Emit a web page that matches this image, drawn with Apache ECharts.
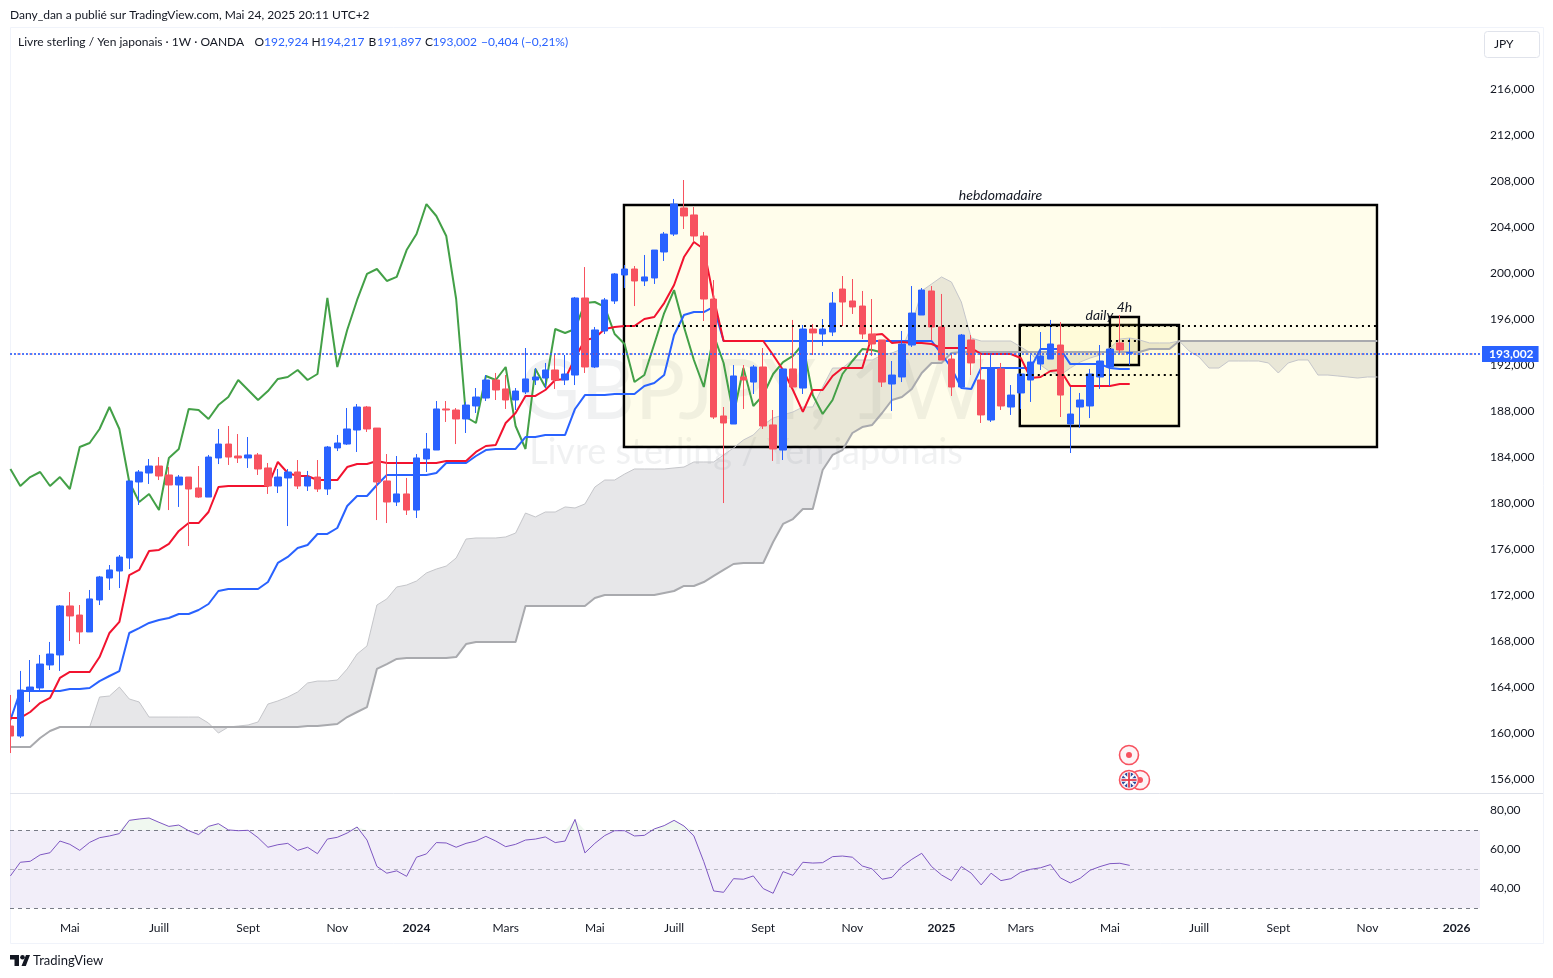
<!DOCTYPE html>
<html><head><meta charset="utf-8">
<style>html,body{margin:0;padding:0;background:#fff}#c{width:1553px;height:978px}</style>
<script src="https://cdn.jsdelivr.net/npm/echarts@6/dist/echarts.min.js"></script>
</head><body><div id="c"></div>
<script>
const opens=[160.52,159.65,163.65,163.83,165.83,166.70,170.96,170.17,168.70,171.48,
173.39,174.0,175.13,181.74,182.52,183.13,182.35,181.48,182.17,181.22,
180.43,183.83,185.04,184.0,183.83,184.09,182.96,181.39,182.09,182.61,
181.39,182.17,181.13,184.70,185.04,186.26,188.26,186.43,181.83,180.0,
180.70,179.30,183.74,184.52,188.09,188.0,187.22,188.35,189.04,190.61,
189.83,188.87,189.57,190.61,190.78,191.48,190.61,191.04,197.74,191.74,
194.87,197.48,199.74,200.26,199.22,199.48,201.74,203.30,205.57,204.96,
203.13,197.65,187.48,186.78,190.87,190.43,191.74,186.70,184.52,191.57,
189.91,195.04,194.61,194.78,198.52,197.48,197.04,194.61,194.09,190.26,
190.87,193.65,196.26,198.35,195.22,192.43,190.0,194.09,190.61,187.13,
191.57,188.26,189.48,190.61,192.0,192.43,193.65,186.78,188.26,188.35,
190.87,191.74,193.83,192.924];
const closes=[159.65,163.65,163.91,165.91,166.78,170.96,170.09,168.70,171.57,173.48,
174.09,175.21,181.83,182.61,183.13,182.26,181.48,182.17,181.13,180.43,
183.91,185.04,183.91,183.83,184.09,182.87,181.39,182.17,182.61,181.39,
182.17,181.13,184.78,185.13,186.35,188.26,186.35,181.74,180.0,180.70,
179.30,183.83,184.61,188.09,188.0,187.22,188.43,189.13,190.61,189.74,
188.87,189.65,190.70,190.87,191.48,190.61,191.13,197.74,191.74,194.96,
197.57,199.83,200.26,199.22,199.57,201.91,203.30,205.91,204.87,203.13,
197.65,187.39,186.87,190.96,190.61,191.74,186.61,184.61,191.57,190.0,
195.04,194.70,195.04,197.30,197.39,196.96,194.61,193.74,190.43,191.04,
193.74,196.43,198.43,195.22,192.35,190.0,194.52,192.09,187.57,191.65,
188.35,189.30,191.13,192.17,192.70,193.74,189.30,187.65,188.87,191.13,
192.26,193.30,193.22,193.002];
const lows=[158.17,159.48,162.61,163.65,165.39,165.31,167.91,167.65,168.70,171.04,
172.35,172.52,174.17,179.74,181.57,181.91,179.30,179.57,176.17,180.35,
180.43,183.30,183.22,183.39,182.96,182.35,180.70,180.78,177.91,181.13,
180.96,180.87,180.61,184.43,184.96,184.35,186.09,178.43,178.17,179.65,
178.87,178.61,182.61,184.52,186.96,185.04,186.0,187.74,188.78,188.87,
188.09,188.0,189.39,190.17,189.91,189.83,190.17,190.17,191.22,191.65,
194.61,197.22,198.61,197.04,198.78,198.96,200.96,203.13,203.74,202.61,
195.74,187.22,179.91,186.78,188.09,189.39,186.35,183.57,183.65,189.91,
189.39,192.78,193.57,194.43,195.30,196.35,194.17,192.70,190.0,187.91,
190.43,193.48,196.26,194.09,192.35,189.22,189.91,191.04,186.87,186.96,
188.0,187.57,188.09,188.70,191.48,192.43,187.39,184.26,186.43,187.30,
189.83,190.09,192.87,191.897];
const highs=[163.22,165.31,166.26,166.70,167.83,171.04,172.17,171.04,172.35,173.57,
174.52,175.39,181.83,182.78,183.74,183.91,183.04,182.35,182.17,183.13,
184.09,186.35,186.61,185.91,185.65,184.26,183.39,182.87,182.87,183.65,
182.70,183.65,184.87,185.83,188.17,188.52,188.35,186.43,184.17,184.0,
182.09,184.17,186.0,188.78,188.78,188.17,188.70,189.91,191.04,191.22,
191.04,189.91,193.39,191.65,192.09,192.87,192.78,197.83,200.43,195.22,
197.74,199.91,200.61,200.52,201.48,201.91,203.48,206.35,208.0,205.65,
203.48,199.30,188.26,191.91,191.91,191.91,193.39,188.0,191.57,195.83,
195.39,195.48,195.91,198.26,199.65,199.39,198.35,197.65,194.09,192.26,
194.87,198.78,198.61,198.78,198.09,192.87,194.61,194.52,192.78,192.78,
192.09,190.17,191.13,192.78,194.78,195.83,195.65,190.0,189.48,191.57,
193.65,193.30,196.26,194.217];
const conversionLine=[161.22,161.22,161.74,162.52,162.96,164.70,165.22,165.22,165.22,166.52,
168.61,169.57,173.65,174.09,175.74,175.83,176.35,177.48,178.17,178.17,
179.13,181.30,181.39,181.39,181.39,181.39,181.39,183.48,182.52,182.26,
182.26,181.91,181.91,181.91,183.04,183.30,183.30,183.57,183.39,183.39,
183.39,183.39,183.39,183.39,183.57,183.57,183.57,184.35,184.87,184.96,
186.87,187.74,189.22,189.22,189.74,190.61,190.70,192.52,194.09,194.26,
195.04,195.22,195.30,195.30,195.91,196.09,197.30,198.87,201.30,202.61,
202.0,197.74,194.0,194.0,194.0,194.0,194.0,192.78,191.48,189.74,
187.83,189.74,189.74,190.96,191.65,191.65,191.65,194.52,194.61,193.83,
193.91,193.83,193.83,193.74,193.39,193.39,193.39,193.39,192.87,192.87,
192.87,192.87,192.52,190.78,190.87,191.39,191.48,190.09,190.09,190.09,
190.09,190.09,190.26,190.26];
const baseLine=[161.04,163.56,163.56,163.56,163.56,163.56,163.74,163.74,163.83,164.43,
164.87,165.30,168.61,169.04,169.48,169.74,169.91,170.26,170.26,170.61,
171.13,172.26,172.43,172.43,172.43,172.43,173.04,174.70,175.22,176.0,
176.26,177.22,177.22,177.74,179.65,180.52,180.52,181.48,182.35,182.35,
182.35,182.35,182.35,182.52,183.39,183.39,183.39,184.0,184.52,184.61,
184.61,184.61,185.65,185.65,185.83,185.83,185.83,188.09,189.30,189.30,
189.30,189.39,189.39,189.39,190.09,190.35,191.04,194.52,196.26,196.52,
196.52,196.96,194.0,194.0,194.0,194.0,194.0,194.0,194.0,194.0,
194.0,194.0,194.0,194.0,194.0,194.0,194.0,194.0,194.0,194.0,
194.0,194.0,194.0,194.0,192.87,191.65,189.91,189.83,191.65,191.65,
191.65,191.65,191.65,191.65,193.30,193.30,193.30,191.99,191.99,191.99,
191.99,191.65,191.57,191.57];
const laggingSpan=[182.87,181.39,182.17,182.61,181.39,182.17,181.13,184.78,185.13,186.35,
188.26,186.35,181.74,180.0,180.70,179.30,183.83,184.61,188.09,188.0,
187.22,188.43,189.13,190.61,189.74,188.87,189.65,190.70,190.87,191.48,
190.61,191.13,197.74,191.74,194.96,197.57,199.83,200.26,199.22,199.57,
201.91,203.30,205.91,204.87,203.13,197.65,187.39,186.87,190.96,190.61,
191.74,186.61,184.61,191.57,190.0,195.04,194.70,195.04,197.30,197.39,
196.96,194.61,193.74,190.43,191.04,193.74,196.43,198.43,195.22,192.35,
190.0,194.52,192.09,187.57,191.65,188.35,189.30,191.13,192.17,192.70,
193.74,189.30,187.65,188.87,191.13,192.26,193.30,193.22,193.002];
const leadA=[158.70,158.70,158.70,159.48,160.09,160.43,160.43,160.43,160.43,163.04,
163.13,163.91,162.87,162.61,161.30,161.30,161.30,161.30,161.30,161.30,
160.78,159.91,160.43,160.52,160.61,160.87,162.43,162.70,163.04,163.48,
164.26,164.43,164.43,164.52,165.48,166.78,167.48,171.04,171.57,172.61,
172.78,173.13,173.83,174.17,174.43,175.13,176.78,176.87,176.87,176.87,
176.96,177.30,179.04,178.70,179.13,179.13,179.57,179.48,179.83,181.30,
181.91,181.91,182.43,182.87,182.87,182.87,182.87,182.96,183.04,183.48,
183.48,183.48,184.09,184.70,185.39,185.83,186.70,187.30,187.57,187.83,
188.26,188.26,190.0,191.65,191.65,192.35,192.35,192.35,192.78,192.96,
193.30,195.39,198.35,198.96,199.57,199.13,197.39,194.26,194.0,194.0,
194.0,194.0,193.48,192.96,191.91,191.30,191.04,191.65,192.17,192.52,
192.78,193.39,194.17,194.26,194.09,193.83,193.83,193.83,194.0,193.13,
192.61,191.65,191.65,192.26,192.26,192.26,192.26,192.09,191.22,192.09,
192.35,192.35,191.04,191.04,190.96,190.87,190.78,190.87,190.87];
const leadB=[158.70,158.70,158.70,159.48,160.09,160.43,160.43,160.43,160.43,160.43,
160.43,160.43,160.43,160.43,160.43,160.43,160.43,160.43,160.43,160.43,
160.43,160.43,160.43,160.43,160.43,160.43,160.43,160.43,160.43,160.43,
160.52,160.52,160.61,160.70,161.30,161.74,162.17,165.48,165.91,166.35,
166.43,166.43,166.43,166.43,166.43,166.52,167.65,167.83,167.83,167.83,
167.83,167.83,170.96,170.96,170.96,170.96,170.96,170.96,170.96,171.65,
171.91,171.91,171.91,171.91,171.91,171.91,172.09,172.26,172.70,172.70,
173.04,173.57,174.09,174.61,174.70,174.70,174.70,176.52,178.09,178.52,
179.39,179.39,182.78,184.09,184.52,186.0,186.52,186.70,187.74,188.87,
189.13,189.83,191.22,192.09,192.09,192.96,193.04,193.04,193.04,193.04,
193.04,193.04,193.04,193.04,193.04,193.04,193.04,193.04,193.04,193.04,
193.04,193.04,193.04,193.04,193.04,193.30,193.30,193.30,194.0,194.0,
194.0,194.0,194.0,194.0,194.0,194.0,194.0,194.0,194.0,194.0,
194.0,194.0,194.0,194.0,194.0,194.0,194.0,194.0,194.0];
const rsiValues=[46.6,53.6,54.1,57.4,58.5,64.5,62.8,59.7,63.8,66.2,
67.1,68.3,75.1,75.8,76.3,74.1,72.0,72.7,69.8,67.8,
72.0,73.4,70.2,69.8,70.0,66.2,61.3,62.6,63.3,59.7,
61.3,58.0,65.5,66.4,68.6,71.7,65.0,51.5,48.0,49.2,
46.4,56.2,57.9,63.7,63.5,61.3,63.3,64.5,66.9,64.5,
61.6,62.8,65.0,65.5,66.6,63.7,64.5,75.6,58.4,63.3,
67.3,69.8,69.8,67.1,67.4,70.7,72.4,75.1,72.2,67.1,
53.9,38.9,38.2,45.2,44.9,46.6,40.1,37.7,48.8,46.9,
53.6,53.2,53.4,56.5,56.8,56.2,51.7,50.2,44.9,45.9,
51.4,55.1,58.2,51.4,47.1,44.2,51.4,48.0,42.0,48.0,
44.2,45.2,48.5,50.0,50.8,52.4,45.6,43.0,45.4,49.5,
51.4,52.9,53.1,52.0];
const monthTicks=[6,15,24,33,41,50,59,67,76,85,94,102,111,120,128,137,146];
const monthLabels=['Mai','Juill','Sept','Nov','2024','Mars','Mai','Juill','Sept','Nov','2025','Mars','Mai','Juill','Sept','Nov','2026'];
const lastClose=193.002;
const boxNames=['hebdomadaire','daily','4h'];
const boxFrom=[61.94,101.9,111];
const boxTo=[137.96,117.97,113.93];
const boxTop=[205.83,195.39,196.09];
const boxBottom=[184.78,186.61,191.91];
const boxLevel=[195.3,191.04,194.02];

const FONT='Lato, "Noto Sans", sans-serif';
const xExtent={min:-0.04,max:148.36};
const pts=a=>a.map((v,i)=>[i,v]);
const candleData=opens.map((o,i)=>[i,o,closes[i],lows[i],highs[i]]);
const ink='#131722';
const chart=echarts.init(document.getElementById('c'),null,{renderer:'canvas'});
const txt=(x,y,text,fill,extra)=>({type:'text',x,y,silent:true,z:50,style:Object.assign({text,fill,font:'12px '+FONT,textVerticalAlign:'middle'},extra||{})});
const headerBits=[[18,'Livre sterling / Yen japonais · 1W · OANDA',ink],[254.5,'O',ink],[264,'192,924','#2962FF'],[311.5,'H',ink],[320,'194,217','#2962FF'],[368.5,'B',ink],[377,'191,897','#2962FF'],[425,'C',ink],[432.5,'193,002','#2962FF'],[481,'−0,404 (−0,21%)','#2962FF']];
const ring=(cx,cy,z)=>({type:'circle',silent:true,z,shape:{cx,cy,r:9.5},style:{fill:'#FDF3F5',stroke:'#F7525F',lineWidth:1.6}});
const seg=(x1,y1,x2,y2,stroke,lineWidth,z)=>({type:'line',silent:true,z,shape:{x1,y1,x2,y2},style:{stroke,lineWidth}});
const poly=(points)=>({type:'polygon',silent:true,z:50,shape:{points},style:{fill:'#131722'}});
const graphics=[
 {type:'rect',silent:true,z:10,shape:{x:0,y:600,width:10,height:190},style:{fill:'#fff'}},
 {type:'rect',silent:true,z:0,shape:{x:10.5,y:27.5,width:1533,height:916},style:{fill:'none',stroke:'#F0F3FA',lineWidth:1}},
 {type:'line',silent:true,z:0,shape:{x1:10,y1:793.5,x2:1543,y2:793.5},style:{stroke:'#E0E3EB',lineWidth:1}},
 txt(10,15,'Dany_dan a publié sur TradingView.com, Mai 24, 2025 20:11 UTC+2',ink),
 ...headerBits.map(b=>txt(b[0],42,b[1],b[2])),
 {type:'rect',silent:true,z:1,shape:{x:1484.5,y:31.5,width:55,height:26,r:3},style:{fill:'#fff',stroke:'#E0E3EB',lineWidth:1}},
 txt(1494,44,'JPY',ink),
 {type:'text',silent:true,z:0,x:752,y:392,style:{text:'GBPJPY, 1W',fill:'rgba(120,123,134,0.11)',font:'84px '+FONT,textAlign:'center',textVerticalAlign:'middle'}},
 {type:'text',silent:true,z:0,x:746,y:452,style:{text:'Livre sterling / Yen japonais',fill:'rgba(120,123,134,0.11)',font:'36px '+FONT,textAlign:'center',textVerticalAlign:'middle'}},
 poly([[10,955],[19,955],[19,966],[14.5,966],[14.5,959.5],[10,959.5]]),
 {type:'circle',silent:true,z:50,shape:{cx:22.5,cy:957.3,r:2.3},style:{fill:'#131722'}},
 poly([[26,955],[30,955],[25.8,966],[21.5,966]]),
 txt(33,960.5,'TradingView',ink,{font:'13px '+FONT}),
 ring(1129,755,60),
 {type:'circle',silent:true,z:61,shape:{cx:1129,cy:755,r:3},style:{fill:'#F7525F'}},
 ring(1140,780,60),
 {type:'circle',silent:true,z:61,shape:{cx:1140,cy:780,r:3},style:{fill:'#F7525F'}},
 ring(1129,780,62),
 {type:'circle',silent:true,z:63,shape:{cx:1129,cy:780,r:7.5},style:{fill:'#2B4A9B'}},
 seg(1123.7,774.7,1134.3,785.3,'#fff',2,64),
 seg(1123.7,785.3,1134.3,774.7,'#fff',2,64),
 seg(1121.5,780,1136.5,780,'#fff',3.5,64),
 seg(1129,772.5,1129,787.5,'#fff',3.5,64),
 seg(1121.5,780,1136.5,780,'#E33B4E',1.8,65),
 seg(1129,772.5,1129,787.5,'#E33B4E',1.8,65)
];
const boxAreas=boxNames.map((n,i)=>[{
  name:n,coord:[boxFrom[i],boxTop[i]],
  itemStyle:{color:'rgba(255,235,59,0.1)',borderColor:'#000',borderWidth:2.4},
  label:{show:true,position:'top',distance:1,formatter:n,color:ink,fontStyle:'italic',fontSize:14,fontFamily:FONT}
},{coord:[boxTo[i],boxBottom[i]]}]);
const levelLines=boxNames.map((n,i)=>[{coord:[boxFrom[i],boxLevel[i]],lineStyle:{color:'#000',type:[2,4],width:2},label:{show:false}},{coord:[boxTo[i],boxLevel[i]]}]);
const line=(name,data,color,width,z)=>({name,type:'line',xAxisIndex:0,yAxisIndex:0,data:pts(data),symbol:'none',showSymbol:false,z,silent:true,animation:false,clip:true,lineStyle:{color,width}});
chart.setOption({
 animation:false,backgroundColor:'#fff',textStyle:{fontFamily:FONT},
 graphic:{elements:graphics},
 grid:[
  {left:10,width:1470,top:88,height:690,containLabel:false},
  {left:10,width:1470,top:810.8,height:117,containLabel:false},
  {left:10,width:1470,top:89.5,height:690,containLabel:false}
 ],
 xAxis:[
  Object.assign({type:'value',gridIndex:0,show:false,splitLine:{show:false}},xExtent),
  Object.assign({type:'value',gridIndex:1,axisLine:{show:false},axisTick:{show:false},splitLine:{show:false},
    axisLabel:{customValues:monthTicks,margin:0,verticalAlign:'middle',color:'#131722',fontSize:12,fontFamily:FONT,
      formatter:v=>{const l=monthLabels[monthTicks.indexOf(v)]||'';return /^\d+$/.test(l)?'{y|'+l+'}':l;},
      rich:{y:{fontWeight:'bold',fontSize:12,color:ink,fontFamily:FONT}}}},xExtent),
  Object.assign({type:'value',gridIndex:2,show:false,splitLine:{show:false}},xExtent)
 ],
 yAxis:[
  {type:'value',gridIndex:0,position:'right',min:156,max:216,interval:4,axisLine:{show:false},axisTick:{show:false},splitLine:{show:false},
   axisLabel:{margin:10,align:'left',color:ink,fontSize:12,fontFamily:FONT,formatter:v=>'{p|'+v.toFixed(3).replace('.',',')+'}',
     rich:{p:{padding:[2,0,0,0],color:ink,fontSize:12,fontFamily:FONT}}}},
  {type:'value',gridIndex:1,position:'right',min:20,max:80,interval:20,axisLine:{show:false},axisTick:{show:false},splitLine:{show:false},
   axisLabel:{margin:10,align:'left',color:ink,fontSize:12,fontFamily:FONT,formatter:v=>v===20?'':'{p|'+v.toFixed(2).replace('.',',')+'}',
     rich:{p:{padding:[0,0,2,0],color:ink,fontSize:12,fontFamily:FONT}}}},
  {type:'value',gridIndex:2,show:false,min:156,max:216,interval:4,splitLine:{show:false}}
 ],
 series:[
  {name:'cloud',type:'custom',xAxisIndex:0,yAxisIndex:0,z:1,silent:true,animation:false,data:[[0,leadA[0]]],encode:{x:0,y:1},
   renderItem:(p,api)=>{const up=leadA.map((v,i)=>api.coord([i,v]));const dn=leadB.map((v,i)=>api.coord([i,v])).reverse();
     return {type:'polygon',shape:{points:up.concat(dn)},style:{fill:'rgba(120,123,134,0.18)'}};}},
  {name:'boxes',type:'line',xAxisIndex:0,yAxisIndex:0,data:[],z:2,silent:true,animation:false,
   markArea:{silent:true,z:2,animation:false,data:boxAreas}},
  line('Lead A',leadA,'#C5C6CA',1,2),
  line('Lead B',leadB,'#A9AAAE',2,2),
  line('Lagging',laggingSpan,'#43A047',2,3),
  line('Base',baseLine,'#2962FF',2,3),
  line('Conversion',conversionLine,'#F2132F',2,3),
  {name:'GBPJPY',type:'candlestick',xAxisIndex:0,yAxisIndex:0,z:5,silent:true,animation:false,clip:true,barWidth:7,data:candleData,encode:{x:0,y:[1,2,3,4]},
   itemStyle:{color:'#2962FF',color0:'#F7525F',borderColor:'#2962FF',borderColor0:'#F7525F',borderWidth:1},
   markLine:{symbol:'none',silent:true,animation:false,z:6,data:levelLines}
  },
  {name:'last price',type:'line',xAxisIndex:2,yAxisIndex:2,data:[],z:6,silent:true,animation:false,
   markLine:{symbol:'none',silent:true,animation:false,z:7,data:[
     {yAxis:lastClose,lineStyle:{color:'rgba(242,54,69,0.35)',type:[1,2],dashOffset:2,width:2},label:{show:false}},
     {yAxis:lastClose,lineStyle:{color:'#2962FF',type:[2,2],width:1.6},
      label:{show:true,position:'end',distance:2,formatter:'193,002',color:'#fff',backgroundColor:'#2962FF',padding:[2,5,2,7],fontSize:12,fontWeight:'bold',fontFamily:FONT}}]}},
  {name:'RSI',type:'line',xAxisIndex:1,yAxisIndex:1,data:pts(rsiValues),symbol:'none',showSymbol:false,z:3,silent:true,animation:false,lineStyle:{color:'#7E57C2',width:1},
   markArea:{silent:true,animation:false,z:1,data:[[{yAxis:70,itemStyle:{color:'rgba(126,87,194,0.1)'}},{yAxis:30}]]},
   markLine:{symbol:'none',silent:true,animation:false,z:2,label:{show:false},data:[
     {yAxis:70,lineStyle:{color:'#787B86',type:[4,4],width:1}},
     {yAxis:50,lineStyle:{color:'rgba(120,123,134,0.5)',type:[4,4],width:1}},
     {yAxis:30,lineStyle:{color:'#787B86',type:[4,4],width:1}}]}},
  {name:'RSI overbought fill',type:'line',xAxisIndex:1,yAxisIndex:1,data:pts(rsiValues.map(v=>Math.max(v,70))),symbol:'none',showSymbol:false,z:1,silent:true,animation:false,lineStyle:{width:0},
   areaStyle:{origin:70,color:'rgba(76,175,80,0.12)'}}
 ]
});
</script></body></html>
